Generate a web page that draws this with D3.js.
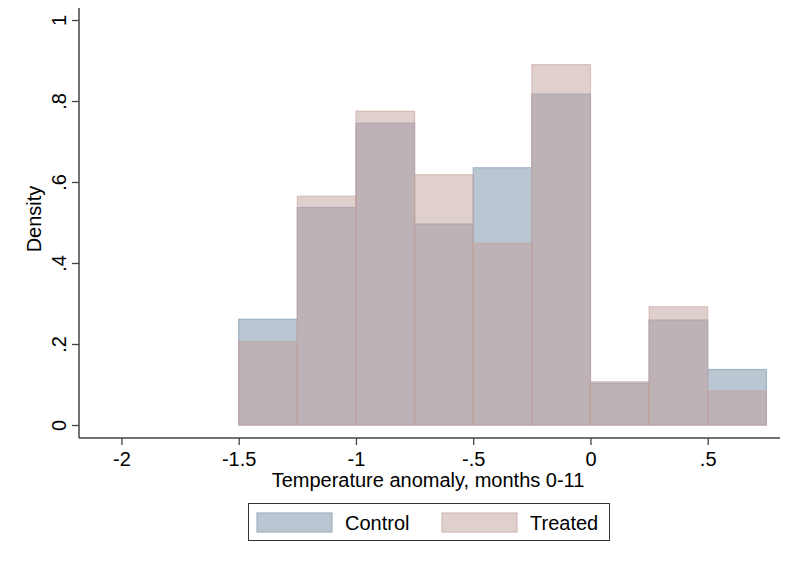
<!DOCTYPE html>
<html><head><meta charset="utf-8">
<script src="https://cdn.jsdelivr.net/npm/d3@7"></script>
<style>body{margin:0;background:#fff}svg{display:block}text{font-family:"Liberation Sans",Arial,Helvetica,sans-serif;fill:#000}</style>
</head><body><svg id="c" width="800" height="562"></svg>
<script>
const binStarts = [-1.5,-1.25,-1,-0.75,-0.5,-0.25,0,0.25,0.5];
const binWidth = 0.25;
const controlDensity = [0.261,0.537,0.745,0.496,0.635,0.817,0.103,0.259,0.137];
const treatedDensity = [0.206,0.565,0.775,0.618,0.449,0.890,0.107,0.292,0.084];
const xTicks = [-2,-1.5,-1,-0.5,0,0.5];
const xTickLabels = ["-2","-1.5","-1","-.5","0",".5"];
const yTicks = [0,0.2,0.4,0.6,0.8,1];
const yTickLabels = ["0",".2",".4",".6",".8","1"];
const seriesNames = ["Control","Treated"];

const svg = d3.select("#c");
const x = d3.scaleLinear().domain([-2.181,0.804]).range([79,779]);
const y = d3.scaleLinear().domain([0,1]).range([425,20]);
const axisColor = "#444";
const FS = 20;

const fills = ["rgb(186,199,211)","rgba(191,159,155,0.5)"];
const strokes = ["rgb(160,177,196)","rgba(200,160,155,0.55)"];
[controlDensity, treatedDensity].forEach((vals,si)=>{
  svg.append("g").selectAll("rect").data(vals).join("rect")
    .attr("x",(d,i)=>x(binStarts[i]))
    .attr("width",(d,i)=>x(binStarts[i]+binWidth)-x(binStarts[i]))
    .attr("y",d=>y(d))
    .attr("height",d=>y(0)-y(d))
    .attr("fill",fills[si])
    .attr("stroke",strokes[si])
    .attr("stroke-width",1.2);
});

// y axis
const yAxis = svg.append("g").attr("transform","translate(79,0)")
  .call(d3.axisLeft(y).tickValues(yTicks).tickFormat((d,i)=>yTickLabels[i]).tickSize(7).tickPadding(0));
yAxis.select(".domain").attr("d","M0,8V438").attr("stroke",axisColor).attr("stroke-width",1.5);
yAxis.selectAll(".tick line").attr("stroke",axisColor).attr("stroke-width",1.3);
yAxis.selectAll(".tick text").attr("x",0).attr("dy",0).attr("font-size",FS)
  .attr("text-anchor","middle").attr("transform","translate(-13,0) rotate(-90)").style("font-family",'"Liberation Sans",Arial,sans-serif');

// x axis
const xAxis = svg.append("g").attr("transform","translate(0,438)")
  .call(d3.axisBottom(x).tickValues(xTicks).tickFormat((d,i)=>xTickLabels[i]).tickSize(7).tickPadding(0));
xAxis.select(".domain").attr("d","M79,0H780").attr("stroke",axisColor).attr("stroke-width",1.5);
xAxis.selectAll(".tick line").attr("stroke",axisColor).attr("stroke-width",1.3);
xAxis.selectAll(".tick text").attr("y",28).attr("dy",0).attr("font-size",FS).style("font-family",'"Liberation Sans",Arial,sans-serif');

svg.append("text").attr("x",428).attr("y",487).attr("text-anchor","middle").attr("font-size",FS)
  .text("Temperature anomaly, months 0-11");
svg.append("text").attr("transform","translate(41,219) rotate(-90)").attr("text-anchor","middle").attr("font-size",FS)
  .text("Density");

// legend
const lg = svg.append("g");
lg.append("rect").attr("x",248.5).attr("y",503.5).attr("width",361).attr("height",37)
  .attr("fill","#fff").attr("stroke","#333").attr("stroke-width",1);
const lx = [257,442];
seriesNames.forEach((n,i)=>{
  lg.append("rect").attr("x",lx[i]).attr("y",513).attr("width",75).attr("height",19)
    .attr("fill", i===0?fills[0]:"rgb(223,207,205)").attr("stroke", i===0?strokes[0]:"rgb(212,186,183)").attr("stroke-width",1.2);
  lg.append("text").attr("x",lx[i]+88).attr("y",530).attr("font-size",FS).text(n);
});
</script></body></html>
